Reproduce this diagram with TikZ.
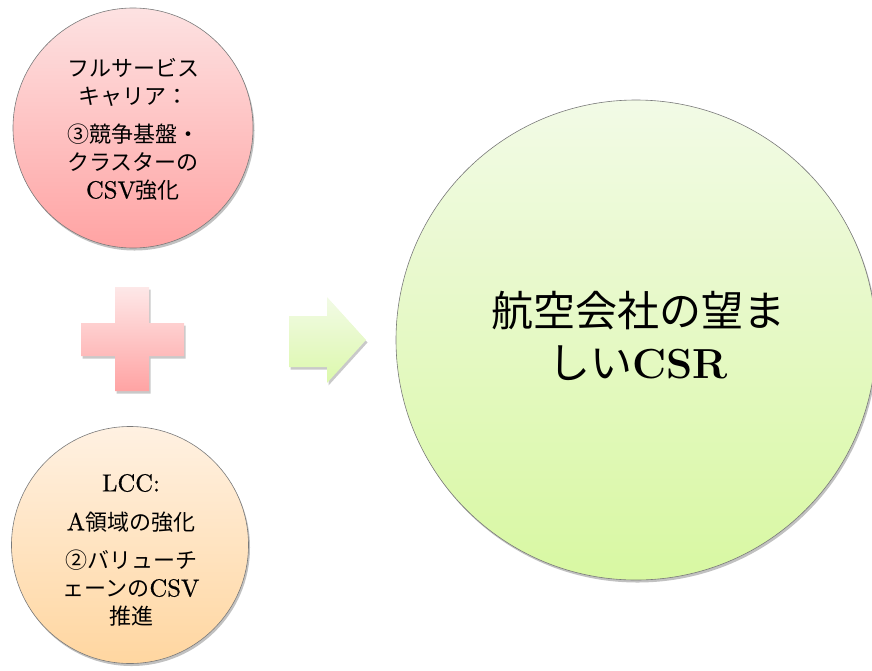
\documentclass[tikz,border=0pt]{standalone}
\usepackage{fontspec}
\newfontfamily\jp{Noto Sans CJK JP}
\newfontfamily\lat{lmroman10-regular.otf}[Scale=1.12, FakeBold=0.6]
\usetikzlibrary{shadows}
\definecolor{pinkT}{HTML}{FDE2E2}
\definecolor{pinkB}{HTML}{FFA3A3}
\definecolor{orT}{HTML}{FFF1E2}
\definecolor{orB}{HTML}{FFD6A0}
\definecolor{grT}{HTML}{F2FAE6}
\definecolor{grB}{HTML}{D8F8A2}
\definecolor{edge}{HTML}{7A7A7A}
\tikzset{
  ball/.style={circle, draw=edge, line width=0.6pt, inner sep=0pt,
    drop shadow={shadow xshift=1.5pt, shadow yshift=-2.5pt, opacity=0.35, fill=black!70}},
  flat/.style={drop shadow={shadow xshift=1.5pt, shadow yshift=-2.5pt, opacity=0.3, fill=black!70}},
  txt/.style={align=center, font=\fontsize{22pt}{28pt}\selectfont\lat},
}
\begin{document}
\begin{tikzpicture}[x=1pt,y=-1pt]
\useasboundingbox (0,0) rectangle (872,670);
% circles
\node[ball, minimum size=240pt, top color=pinkT, bottom color=pinkB] (fsc) at (133,128) {};
\node[ball, minimum size=237pt, top color=orT, bottom color=orB] (lcc) at (130,545) {};
\node[ball, minimum size=480pt, top color=grT, bottom color=grB] (csr) at (636,340) {};
% plus
\path[flat, top color=pinkT!80!white, bottom color=pinkB]
  (115,287) -- (149,287) -- (149,323) -- (184,323) -- (184,356) -- (149,356)
  -- (149,391) -- (115,391) -- (115,356) -- (81,356) -- (81,323) -- (115,323) -- cycle;
\coordinate (plus) at (132,339);
% arrow
\path[flat, top color=grT, bottom color=grB!90!white]
  (289,316) -- (327,316) -- (327,297) -- (366,340) -- (327,383) -- (327,367) -- (289,367) -- cycle;
\coordinate (arr) at (327,340);
% texts
\node[txt] (t1) at (133,82) {{\jp フルサービス}\\{\jp キャリア：}};
\node[txt] (t2) at (133,162) {{\jp ③競争基盤・}\\{\jp クラスターの}\\CSV{\jp 強化}};
\node[txt] (t3) at (131,483) {LCC:};
\node[txt] (t4) at (131,522) {A{\jp 領域の強化}};
\node[txt] (t5) at (131,588) {{\jp ②バリューチ}\\{\jp ェーンの}CSV\\{\jp 推進}};
\node[align=center, font=\fontsize{42pt}{52pt}\selectfont] (t6) at (638,336) {{\jp 航空会社の望ま}\\{\jp しい}\textbf{CSR}};
\end{tikzpicture}
\end{document}
